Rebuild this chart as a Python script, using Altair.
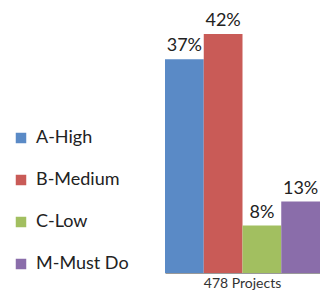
import altair as alt
import pandas as pd

categories = ["A-High", "B-Medium", "C-Low", "M-Must Do"]
shares = [0.374, 0.418, 0.083, 0.125]
group = ["478 Projects"] * 4
colors = ["#5A8AC6", "#C95B57", "#A2BF60", "#8A6DAA"]

df = pd.DataFrame({"group": group, "cat": categories, "share": shares})

FONT = "Lato"

base = alt.Chart(df).encode(
    x=alt.X("group:N", title=None,
            scale=alt.Scale(paddingInner=0, paddingOuter=0),
            axis=alt.Axis(labelAngle=0, ticks=False, domainColor="#999999",
                          labelFontSize=14, labelColor="#333333", labelFont=FONT,
                          labelPadding=3)),
    xOffset=alt.XOffset("cat:N", sort=categories,
                        scale=alt.Scale(paddingInner=0, paddingOuter=0)),
    y=alt.Y("share:Q", axis=None, scale=alt.Scale(domain=[0, 0.4565], nice=False)),
)

bars = base.mark_bar().encode(
    color=alt.Color("cat:N", sort=categories,
                    scale=alt.Scale(domain=categories, range=colors),
                    legend=alt.Legend(title=None, orient="none", legendX=-153, legendY=117,
                                      symbolType="square", symbolSize=110,
                                      symbolStrokeWidth=0, labelFontSize=18,
                                      labelFont=FONT, labelColor="#222222",
                                      rowPadding=24, labelOffset=6))
)

labels = base.mark_text(baseline="alphabetic", dy=-8, fontSize=18, font=FONT,
                        color="#222222").encode(
    text=alt.Text("share:Q", format=".0%")
)

chart = (bars + labels).properties(
    width=155, height=261,
    autosize=alt.AutoSizeParams(type="none"),
    padding={"left": 157, "top": 4, "right": 0, "bottom": 20},
).configure_view(stroke=None)

chart.save("out.html", embed_options={"renderer": "svg", "actions": False})
